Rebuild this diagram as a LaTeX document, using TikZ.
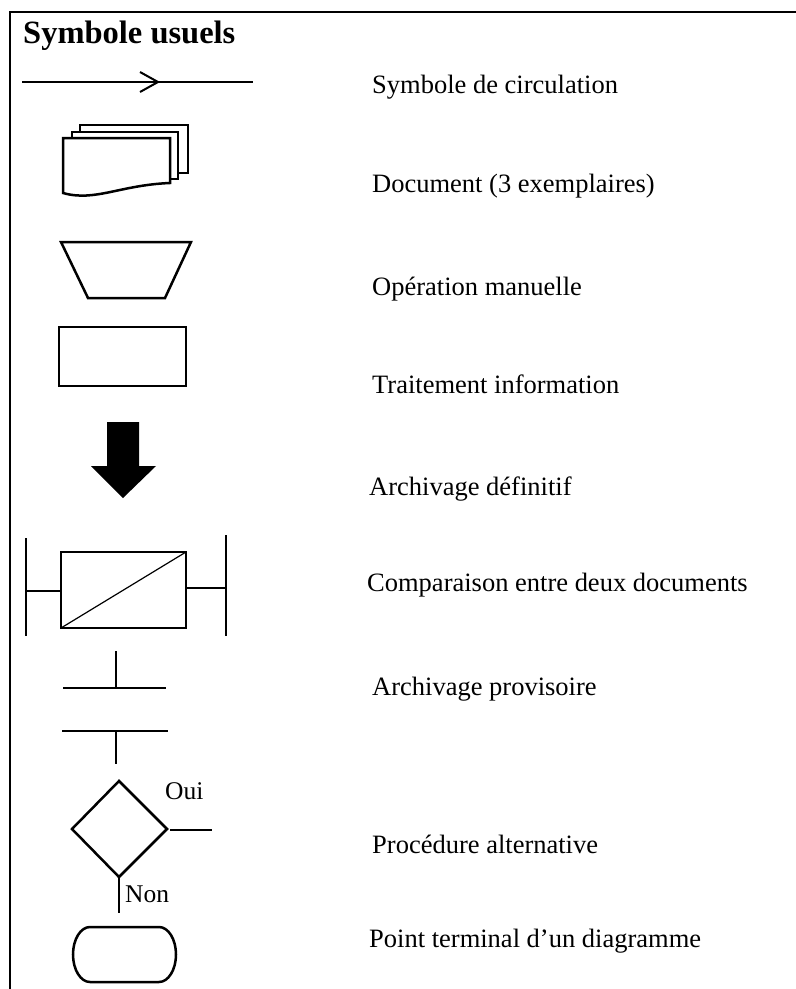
\documentclass[tikz,border=0pt]{standalone}
\usepackage{fontspec}
\setmainfont{Liberation Serif}
\tikzset{
  thick line/.style={line width=2.5pt},
  thin line/.style={line width=1.2pt},
  label text/.style={anchor=base west, inner sep=0pt, font=\fontsize{26.5}{30}\selectfont},
  small text/.style={anchor=base west, inner sep=0pt, font=\fontsize{25.5}{29}\selectfont},
  title text/.style={anchor=base west, inner sep=0pt, font=\fontsize{32.5}{38}\selectfont\bfseries},
}
\begin{document}
\begin{tikzpicture}[x=1pt,y=-1pt]
\useasboundingbox (0,0) rectangle (796,989);
% frame
\draw[thick line] (800,12) -- (10,12) -- (10,995);
\node[title text] (title) at (23,43) {Symbole usuels};

% flow symbol
\coordinate (fa) at (22,82);
\coordinate (fb) at (158,82);
\coordinate (fc) at (253,82);
\draw[line width=2pt] (fa) -- (fb);
\draw[thin line] (fb) -- (fc);
\draw[line width=2pt] (140,72) -- (fb) -- (140,92);
\node[label text] (t1) at (372,93) {Symbole de circulation};

% document (3 copies)
\draw[thick line, fill=white] (80,125) rectangle (188,173);
\draw[thick line, fill=white] (72,132) rectangle (178,179);
\draw[thick line, fill=white] (63,138) -- (170,138) -- (170,183)
  .. controls (120,185) and (95,202) .. (63,193) -- cycle;
\node[label text] (t2) at (372,192) {Document (3 exemplaires)};

% manual operation
\draw[thick line] (61,242) -- (191,242) -- (165,298) -- (88,298) -- cycle;
\node[label text] (t3) at (372,295) {Opération manuelle};

% processing
\draw[thick line] (59,327) rectangle (186,386);
\node[label text] (t4) at (372,393) {Traitement information};

% definitive archiving
\fill (107,422) -- (139,422) -- (139,466) -- (156,466) -- (123,498) -- (91,466) -- (107,466) -- cycle;
\node[label text] (t5) at (369,495) {Archivage définitif};

% comparison
\draw[thick line] (61,552) rectangle (186,628);
\draw[thin line] (61,628) -- (186,552);
\draw[thin line] (26,538) -- (26,636);
\draw[thin line] (26,591) -- (61,591);
\draw[thin line] (226,535) -- (226,636);
\draw[thin line] (186,588) -- (226,588);
\node[label text] (t6) at (367,591) {Comparaison entre deux documents};

% provisional archiving
\draw[thin line] (116,651) -- (116,688);
\draw[thin line] (63,688) -- (166,688);
\draw[thin line] (62,731) -- (168,731);
\draw[thin line] (116,731) -- (116,764);
\node[label text] (t7) at (372,695) {Archivage provisoire};

% alternative
\draw[thick line] (119,781) -- (167,829) -- (119,877) -- (72,829) -- cycle;
\draw[thin line] (170,830) -- (212,830);
\draw[thin line] (119,877) -- (119,913);
\node[small text] (oui) at (165,799) {Oui};
\node[small text] (non) at (125,902) {Non};
\node[label text] (t8) at (372,853) {Procédure alternative};

% terminal
\draw[thick line] (90,927) -- (159,927) arc[start angle=-90, end angle=90, x radius=17, y radius=27.5]
  -- (90,982) arc[start angle=90, end angle=270, x radius=17, y radius=27.5] -- cycle;
\node[label text] (t9) at (369,947) {Point terminal d’un diagramme};
\end{tikzpicture}
\end{document}
